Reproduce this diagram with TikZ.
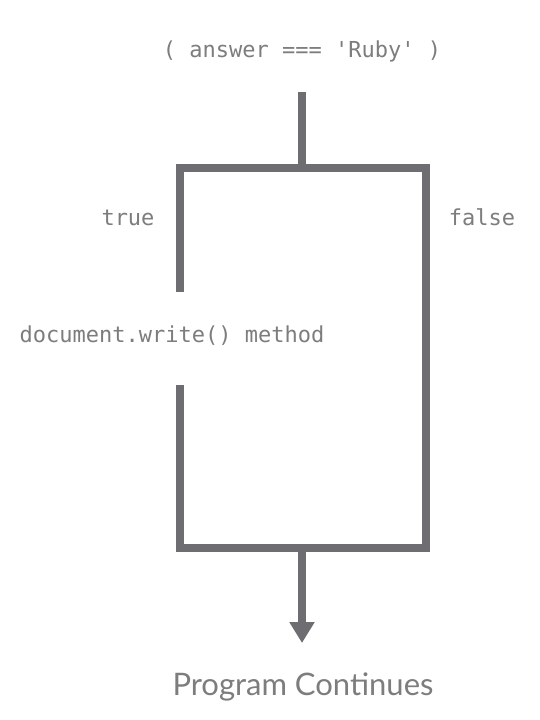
\documentclass[tikz,border=0pt]{standalone}
\usepackage{fontspec}
\setmonofont{DejaVu Sans Mono}
\newfontfamily\latofont{Lato}
\usetikzlibrary{arrows.meta}
\definecolor{linegray}{RGB}{110,109,113}
\definecolor{textgray}{RGB}{125,125,125}
\begin{document}
\begin{tikzpicture}[x=1pt,y=-1pt,
  codetext/.style={font=\ttfamily\fontsize{22}{26}\selectfont, text=textgray, inner sep=0pt, anchor=base},
  endtext/.style={font=\latofont\fontsize{31}{36}\selectfont, text=textgray, inner sep=0pt, anchor=base},
  flowline/.style={draw=linegray, line width=8.5pt, line join=miter, line cap=butt}]
\useasboundingbox[fill=white] (0,0) rectangle (540,720);
\node[codetext] (cond) at (302,57) {( answer === 'Ruby' )};
\node[codetext] (true) at (128,225) {true};
\node[codetext] (false) at (482,225) {false};
\node[codetext] (method) at (172,342) {document.write() method};
\node[endtext] (cont) at (303,695) {Program Continues};
\coordinate (stemtop) at (302,92);
\coordinate (split) at (302,168);
\coordinate (tl) at (180,168);
\coordinate (tr) at (426,168);
\coordinate (br) at (426,548);
\coordinate (bl) at (180,548);
\coordinate (leftend) at (180,292);
\coordinate (leftstart) at (180,385);
\coordinate (merge) at (302,548);
\coordinate (tip) at (302,643);
\draw[flowline] (stemtop) -- (split);
\draw[flowline] (leftend) -- (tl) -- (tr) -- (br) -- (bl) -- (leftstart);
\draw[flowline, -{Triangle[width=24pt,length=21pt]}] (merge) -- (tip);
\end{tikzpicture}
\end{document}
